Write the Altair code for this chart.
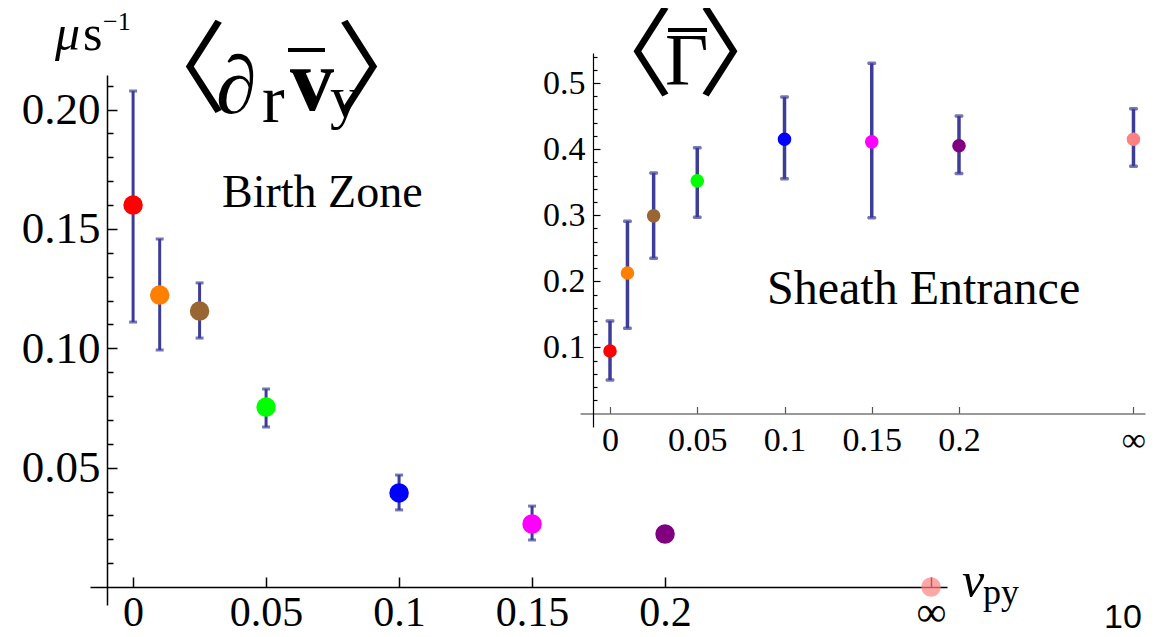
import altair as alt
import pandas as pd

# ---------------- data ----------------
categories = ["0", "0.01", "0.025", "0.05", "0.1", "0.15", "0.2", "∞"]
# x slot of each category on the axes (∞ is drawn in the 0.3 slot)
nu_position = [0.0, 0.01, 0.025, 0.05, 0.1, 0.15, 0.2, 0.3]
point_colors = ["#ff0000", "#ff8000", "#996633", "#00ff00",
                "#0000ff", "#ff00ff", "#800080", "#ff8080"]

# Birth zone  <d_r vbar_y>  (mu s^-1)
birth_mean = [0.160, 0.1223, 0.1156, 0.0754, 0.0394, 0.0264, 0.0222, 0.0]
birth_low = [0.111, 0.0993, 0.1043, 0.0670, 0.0323, 0.0197, 0.0222, 0.0]
birth_high = [0.2078, 0.1458, 0.1274, 0.0829, 0.0469, 0.0339, 0.0222, 0.0]

# Sheath entrance  <Gamma bar>
sheath_mean = [0.0946, 0.2126, 0.299, 0.352, 0.415, 0.411, 0.405, 0.415]
sheath_low = [0.0507, 0.129, 0.235, 0.297, 0.355, 0.296, 0.363, 0.374]
sheath_high = [0.140, 0.291, 0.364, 0.402, 0.479, 0.530, 0.450, 0.461]

# tick values
main_x_ticks = [0.0, 0.05, 0.1, 0.15, 0.2, 0.3]
main_y_major = [0.05, 0.10, 0.15, 0.20]
main_y_minor = [0.01, 0.02, 0.03, 0.04, 0.06, 0.07, 0.08, 0.09, 0.11, 0.12,
                0.13, 0.14, 0.16, 0.17, 0.18, 0.19, 0.21]
inset_x_ticks = [0.0, 0.05, 0.1, 0.15, 0.2, 0.3]
inset_y_major = [0.1, 0.2, 0.3, 0.4, 0.5]
inset_y_minor = [0.02, 0.04, 0.06, 0.08, 0.12, 0.14, 0.16, 0.18, 0.22, 0.24,
                 0.26, 0.28, 0.32, 0.34, 0.36, 0.38, 0.42, 0.44, 0.46, 0.48,
                 0.52, 0.54]

birth = pd.DataFrame({"cat": categories, "nu": nu_position, "mean": birth_mean,
                      "lo": birth_low, "hi": birth_high})
sheath = pd.DataFrame({"cat": categories, "nu": nu_position, "mean": sheath_mean,
                       "lo": sheath_low, "hi": sheath_high})

# ---------------- styling ----------------
W, H = 1144, 621
BAR = "#3d3d99"
SERIF = "Liberation Serif"
CJK = "Noto Sans CJK JP"
LABEL_EXPR = "datum.value > 0.25 ? '∞' : '' + datum.value"

main_xs = alt.Scale(domain=[-0.0162, 0.306], range=[82, 939], nice=False, zero=False)
main_ys = alt.Scale(domain=[-0.00754, 0.2145], range=[597, 67], nice=False, zero=False)
inset_xs = alt.Scale(domain=[-0.0172, 0.3066], range=[572, 1137], nice=False, zero=False)
inset_ys = alt.Scale(domain=[-0.0204, 0.5454], range=[419, 45], nice=False, zero=False)

color_enc = alt.Color("cat:N", scale=alt.Scale(domain=categories, range=point_colors),
                      legend=None)

common_axis = dict(title=None, grid=False, labelFont=SERIF, labelColor="black",
                   labelFlush=False, labelOverlap=False)

main_x_axis = alt.Axis(orient="top", offset=-579, values=main_x_ticks,
                       labelExpr=LABEL_EXPR, tickSize=10, tickWidth=1.5,
                       tickColor="black", domainColor="black", domainWidth=1.5,
                       labelFontSize=42, labelBaseline="top", labelPadding=-15.5,
                       labelAlign="center", **common_axis)
main_y_axis = alt.Axis(orient="right", offset=99 - W, values=main_y_major, format=".2f",
                       tickSize=10, tickWidth=1.5, tickColor="black",
                       domainColor="black", domainWidth=1.5, labelFontSize=45,
                       labelAlign="right", labelBaseline="middle", labelPadding=-17,
                       **common_axis)
main_y_minor_axis = alt.Axis(orient="right", offset=99 - W, values=main_y_minor,
                             tickSize=6, tickWidth=1.5, tickColor="black",
                             domain=False, labels=False, title=None, grid=False)

inset_x_axis = alt.Axis(orient="top", offset=-405.5, values=inset_x_ticks,
                        labelExpr=LABEL_EXPR, tickSize=7, tickWidth=1.2,
                        tickColor="#555555", domainColor="#777777", domainWidth=1.5,
                        labelFontSize=34, labelBaseline="top", labelPadding=-17,
                        labelAlign="center", **common_axis)
inset_y_axis = alt.Axis(orient="right", offset=585 - W, values=inset_y_major, format=".1f",
                        tickSize=7, tickWidth=1.2, tickColor="black",
                        domainColor="black", domainWidth=1.2, labelFontSize=34,
                        labelAlign="right", labelBaseline="middle", labelPadding=-15,
                        **common_axis)
inset_y_minor_axis = alt.Axis(orient="right", offset=585 - W, values=inset_y_minor,
                              tickSize=4, tickWidth=1.2, tickColor="black",
                              domain=False, labels=False, title=None, grid=False)


def xenc(scale, axis=None):
    return alt.X("nu:Q", scale=scale, axis=axis)


def yenc(field, scale, axis=None):
    return alt.Y(field, type="quantitative", scale=scale, axis=axis)


# ---------------- main plot ----------------
main_bars = alt.Chart(birth).transform_filter("datum.hi > datum.lo").mark_rule(
    color=BAR, strokeWidth=3).encode(
    x=xenc(main_xs, main_x_axis), y=yenc("lo", main_ys, main_y_axis), y2="hi")
main_minor = alt.Chart(birth).mark_point(opacity=0).encode(
    x=xenc(main_xs), y=yenc("mean", main_ys, main_y_minor_axis))
main_caps = alt.Chart(birth).transform_filter("datum.hi > datum.lo").transform_fold(
    ["lo", "hi"], as_=["end", "val"]).mark_tick(
    orient="horizontal", size=8, thickness=3, color=BAR).encode(
    x=xenc(main_xs), y=yenc("val", main_ys))
main_points = alt.Chart(birth).mark_circle(size=380).encode(
    x=xenc(main_xs), y=yenc("mean", main_ys), color=color_enc,
    opacity=alt.condition("datum.cat == '∞'", alt.value(0.7), alt.value(1)))

# ---------------- inset plot ----------------
inset_bars = alt.Chart(sheath).mark_rule(color=BAR, strokeWidth=3.5).encode(
    x=xenc(inset_xs, inset_x_axis), y=yenc("lo", inset_ys, inset_y_axis), y2="hi")
inset_minor = alt.Chart(sheath).mark_point(opacity=0).encode(
    x=xenc(inset_xs), y=yenc("mean", inset_ys, inset_y_minor_axis))
inset_caps = alt.Chart(sheath).transform_fold(["lo", "hi"], as_=["end", "val"]).mark_tick(
    orient="horizontal", size=9, thickness=3.5, color=BAR, cornerRadius=1.5).encode(
    x=xenc(inset_xs), y=yenc("val", inset_ys))
inset_points = alt.Chart(sheath).mark_circle(size=185, opacity=1).encode(
    x=xenc(inset_xs), y=yenc("mean", inset_ys), color=color_enc)

# ---------------- annotations ----------------
ONE = alt.Data(values=[{}])


def txt(s, x, y, size, font=SERIF, style="normal", weight="normal", align="left"):
    return alt.Chart(ONE).mark_text(
        text=s, fontSize=size, font=font, fontStyle=style, fontWeight=weight,
        align=align, baseline="alphabetic", color="black").encode(
        x=alt.value(x), y=alt.value(y))


def bar_over(x1, x2, y, w=4):
    return alt.Chart(ONE).mark_rule(strokeWidth=w, color="black").encode(
        x=alt.value(x1), x2=alt.value(x2), y=alt.value(y))


notes = [
    # <d_r vbar_y>
    txt("〈", 169, 96, 100, font=CJK, align="center"),
    txt("∂", 208, 105, 82),
    txt("r", 254, 114, 68),
    txt("v", 282, 102, 88, weight="bold"),
    bar_over(280, 317, 42),
    txt("y", 322, 109, 60),
    txt("〉", 378, 96, 100, font=CJK, align="center"),
    txt("Birth Zone", 214, 199, 46),
    # units
    txt("μ", 47, 42, 50, style="italic"),
    txt("s", 75, 42, 50),
    txt("−1", 95, 22, 26),
    # x-axis name
    txt("ν", 954, 589, 50, style="italic"),
    txt("py", 975, 596, 36),
    # <Gamma bar>
    txt("〈", 617, 80, 97, font=CJK, align="center"),
    txt("Γ", 657, 77, 75),
    bar_over(660, 699, 22),
    txt("〉", 738, 80, 97, font=CJK, align="center"),
    txt("Sheath Entrance", 759, 296, 48),
    # slide number
    txt("10", 1115, 620, 34, font="Liberation Sans", align="center"),
]

chart = alt.layer(
    main_bars, main_minor, main_caps, main_points,
    inset_bars, inset_minor, inset_caps, inset_points,
    *notes,
).resolve_scale(
    x="independent", y="independent"
).properties(
    width=W, height=H, autosize=alt.AutoSizeParams(type="none"), padding=0,
    background="white",
).configure_view(strokeWidth=0)

chart.save("out.html", embed_options={"renderer": "svg", "actions": False})
